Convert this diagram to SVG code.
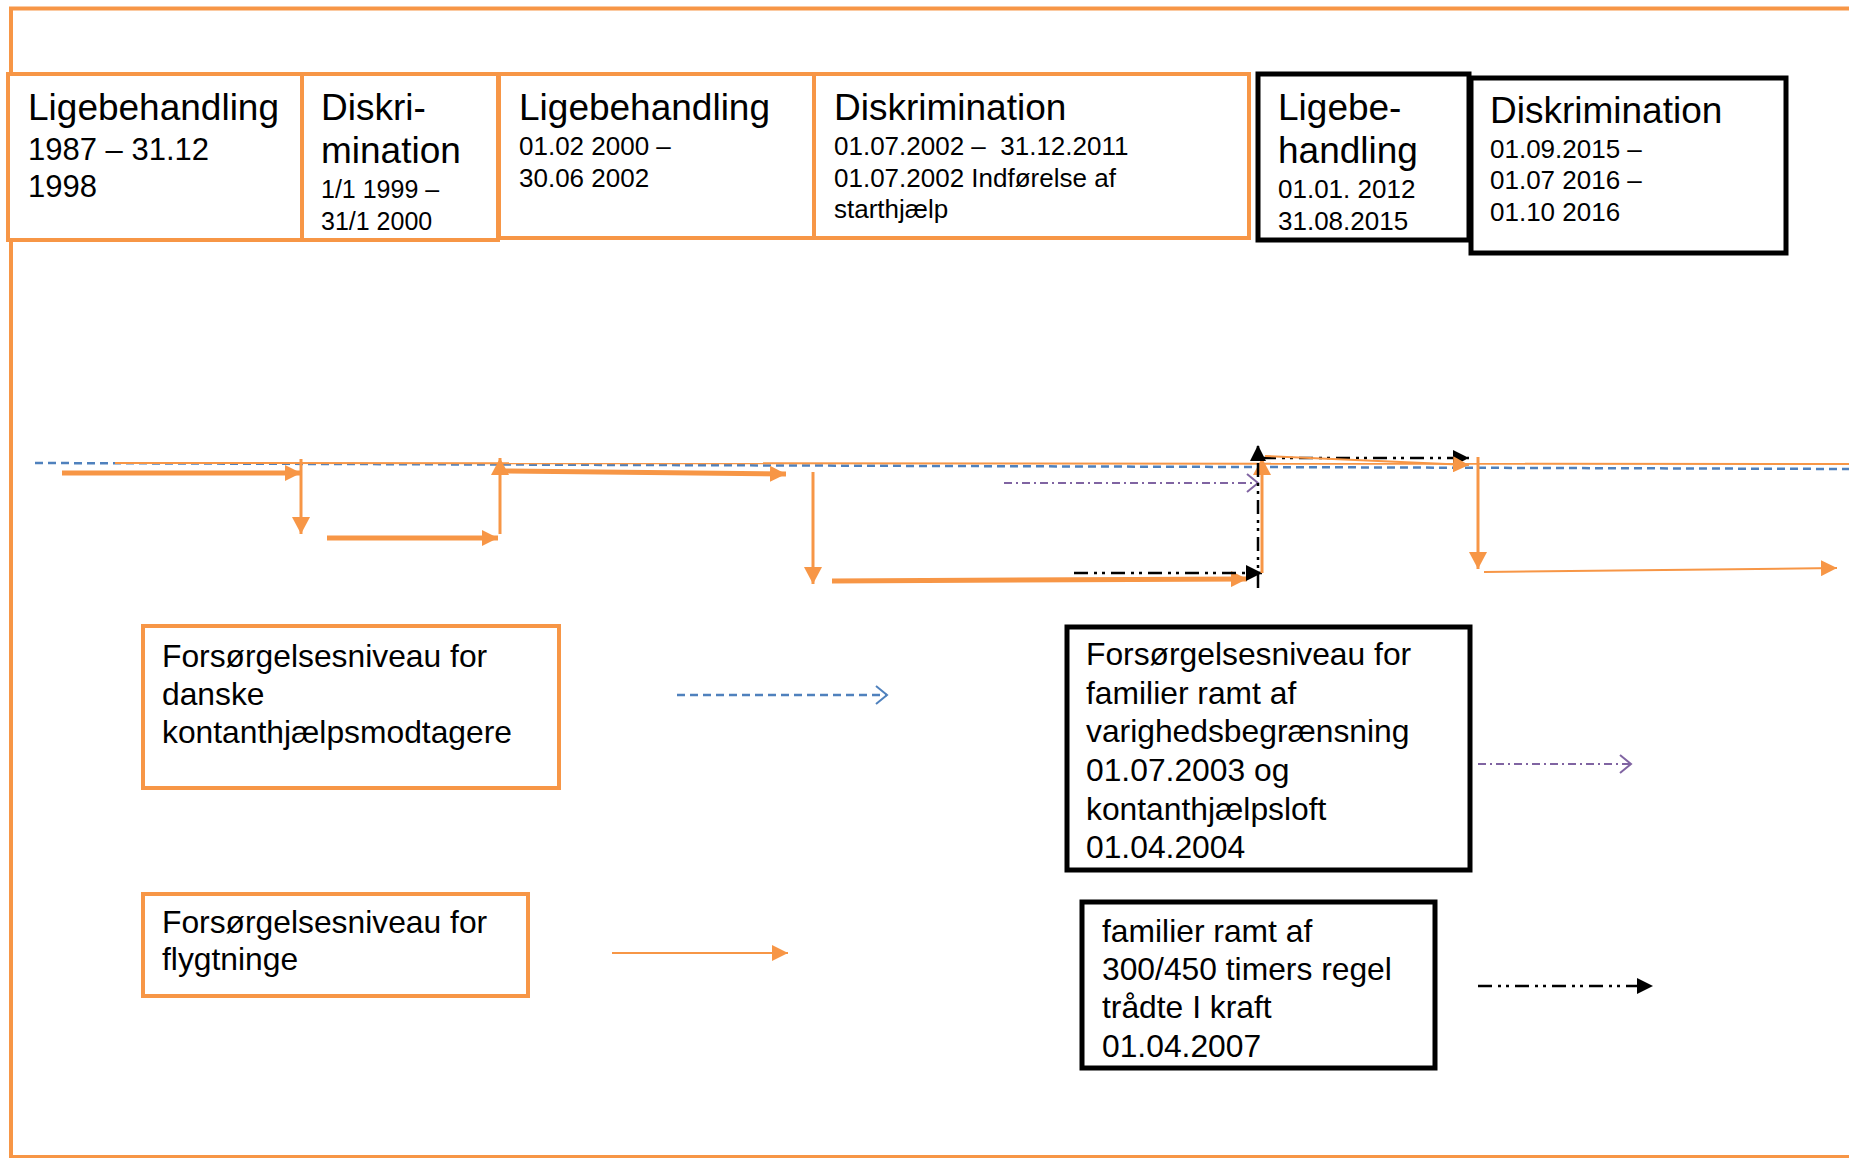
<svg xmlns="http://www.w3.org/2000/svg" width="1849" height="1158" viewBox="0 0 1849 1158">
<style>
text{font-family:"Liberation Sans",Arial,sans-serif;fill:#000}
.ob{fill:#fff;stroke:#F79646;stroke-width:4}
.bb{fill:#fff;stroke:#000;stroke-width:5}
.h{font-size:37px}
.s{font-size:26px}
.m{font-size:31.8px}
.thick{stroke:#F79646;stroke-width:5;fill:none}
.vert{stroke:#F79646;stroke-width:3;fill:none}
.thin{stroke:#F79646;stroke-width:2;fill:none}
.blue{stroke:#4F81BD;stroke-width:2.5;stroke-dasharray:8 5;fill:none}
.purple{stroke:#8064A2;stroke-width:2.2;stroke-dasharray:8 4 2 4;fill:none}
.black{stroke:#000;stroke-width:2.5;stroke-dasharray:14 6 3 5 3 6;fill:none}
</style>
<defs>
<marker id="ao" markerUnits="userSpaceOnUse" markerWidth="18" markerHeight="16" refX="16" refY="8" orient="auto"><path d="M0,0 L16,8 L0,16 Z" fill="#F79646"/></marker>
<marker id="av" markerUnits="userSpaceOnUse" markerWidth="18" markerHeight="18" refX="17" refY="9" orient="auto"><path d="M0,0 L17,9 L0,18 Z" fill="#F79646"/></marker>
<marker id="ab" markerUnits="userSpaceOnUse" markerWidth="18" markerHeight="16" refX="16" refY="8" orient="auto"><path d="M0,0 L16,8 L0,16 Z" fill="#000"/></marker>
<marker id="cb" markerUnits="userSpaceOnUse" markerWidth="14" markerHeight="20" refX="12" refY="10" orient="auto"><path d="M1,1 L12,10 L1,19" fill="none" stroke="#4F81BD" stroke-width="2"/></marker>
<marker id="cp" markerUnits="userSpaceOnUse" markerWidth="14" markerHeight="20" refX="12" refY="10" orient="auto"><path d="M1,1 L12,10 L1,19" fill="none" stroke="#8064A2" stroke-width="2"/></marker>
</defs>
<rect x="11" y="8.5" width="1850" height="1148.5" fill="none" stroke="#F79646" stroke-width="4"/>

<g id="node-ligebehandling-1987">
<rect class="ob" x="8" y="74" width="294" height="166"/>
<text class="h" x="28" y="120">Ligebehandling</text>
<text x="28" y="160" font-size="31">1987 – 31.12</text>
<text x="28" y="197" font-size="31">1998</text>
</g>
<g id="node-diskrimination-1999">
<rect class="ob" x="302" y="74" width="196" height="166"/>
<text class="h" x="321" y="120">Diskri-</text>
<text class="h" x="321" y="163">mination</text>
<text x="321" y="198" font-size="25">1/1 1999 –</text>
<text x="321" y="230" font-size="25">31/1 2000</text>
</g>
<g id="node-ligebehandling-2000">
<rect class="ob" x="499" y="74" width="315" height="164"/>
<text class="h" x="519" y="120">Ligebehandling</text>
<text class="s" x="519" y="155">01.02 2000 –</text>
<text class="s" x="519" y="187">30.06 2002</text>
</g>
<g id="node-diskrimination-2002">
<rect class="ob" x="814" y="74" width="435" height="164"/>
<text class="h" x="834" y="120">Diskrimination</text>
<text class="s" x="834" y="155" xml:space="preserve">01.07.2002 –  31.12.2011</text>
<text class="s" x="834" y="187">01.07.2002 Indførelse af</text>
<text class="s" x="834" y="218">starthjælp</text>
</g>
<g id="node-ligebehandling-2012">
<rect class="bb" x="1258" y="74" width="211" height="166"/>
<text class="h" x="1278" y="120">Ligebe-</text>
<text class="h" x="1278" y="163">handling</text>
<text class="s" x="1278" y="198">01.01. 2012</text>
<text class="s" x="1278" y="230">31.08.2015</text>
</g>
<g id="node-diskrimination-2015">
<rect class="bb" x="1471" y="78" width="315" height="175"/>
<text class="h" x="1490" y="123">Diskrimination</text>
<text class="s" x="1490" y="158">01.09.2015 –</text>
<text class="s" x="1490" y="189">01.07 2016 –</text>
<text class="s" x="1490" y="221">01.10 2016</text>
</g>

<g id="node-danske">
<rect class="ob" x="143" y="626" width="416" height="162"/>
<text class="m" x="162" y="667">Forsørgelsesniveau for</text>
<text class="m" x="162" y="705">danske</text>
<text class="m" x="162" y="743">kontanthjælpsmodtagere</text>
</g>
<g id="node-flygtninge">
<rect class="ob" x="143" y="894" width="385" height="102"/>
<text class="m" x="162" y="933">Forsørgelsesniveau for</text>
<text class="m" x="162" y="970">flygtninge</text>
</g>
<g id="node-varighed">
<rect class="bb" x="1067" y="627" width="403" height="243"/>
<text class="m" x="1086" y="665">Forsørgelsesniveau for</text>
<text class="m" x="1086" y="704">familier ramt af</text>
<text class="m" x="1086" y="742">varighedsbegrænsning</text>
<text class="m" x="1086" y="781">01.07.2003 og</text>
<text class="m" x="1086" y="820">kontanthjælpsloft</text>
<text class="m" x="1086" y="858">01.04.2004</text>
</g>
<g id="node-300-450">
<rect class="bb" x="1082" y="902" width="353" height="166"/>
<text class="m" x="1102" y="942">familier ramt af</text>
<text class="m" x="1102" y="980">300/450 timers regel</text>
<text class="m" x="1102" y="1018">trådte I kraft</text>
<text class="m" x="1102" y="1057">01.04.2007</text>
</g>

<g id="connectors">
<line class="blue" x1="35" y1="463" x2="1849" y2="469"/>
<line class="thin" x1="115" y1="463" x2="1849" y2="464"/>
<line class="thick" x1="62" y1="473" x2="301" y2="473" marker-end="url(#ao)"/>
<line class="vert" x1="301" y1="459" x2="301" y2="534" marker-end="url(#av)"/>
<line class="thick" x1="327" y1="538" x2="498" y2="538" marker-end="url(#ao)"/>
<line class="vert" x1="500" y1="534" x2="500" y2="458" marker-end="url(#av)"/>
<line class="thick" x1="502" y1="471" x2="786" y2="474" marker-end="url(#ao)"/>
<line class="vert" x1="813" y1="472" x2="813" y2="584" marker-end="url(#av)"/>
<line class="thick" x1="832" y1="581" x2="1247" y2="579" marker-end="url(#ao)"/>
<line class="purple" x1="1004" y1="483" x2="1258" y2="483" marker-end="url(#cp)"/>
<line class="black" x1="1074" y1="573" x2="1262" y2="573" marker-end="url(#ab)"/>
<line class="vert" x1="1262" y1="573" x2="1262" y2="458" stroke-width="4" marker-end="url(#av)"/>
<line class="black" x1="1258" y1="588" x2="1258" y2="445" stroke-width="2" marker-end="url(#ab)"/>
<line class="black" x1="1262" y1="458" x2="1469" y2="458" marker-end="url(#ab)"/>
<line class="thin" x1="1265" y1="456" x2="1469" y2="465" marker-end="url(#ao)"/>
<line class="vert" x1="1478" y1="457" x2="1478" y2="569" marker-end="url(#av)"/>
<line class="thin" x1="1484" y1="572" x2="1837" y2="568" marker-end="url(#ao)"/>

<line class="blue" x1="677" y1="695" x2="887" y2="695" marker-end="url(#cb)"/>
<line class="thin" x1="612" y1="953" x2="788" y2="953" marker-end="url(#ao)"/>
<line class="purple" x1="1478" y1="764" x2="1631" y2="764" marker-end="url(#cp)"/>
<line class="black" x1="1478" y1="986" x2="1653" y2="986" marker-end="url(#ab)"/>
</g>
</svg>
